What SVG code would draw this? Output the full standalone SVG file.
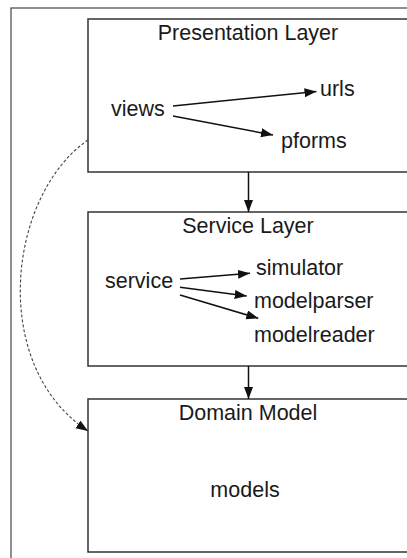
<svg xmlns="http://www.w3.org/2000/svg" width="407" height="558" viewBox="0 0 407 558">
<style>
.frame{fill:none;stroke:#444;stroke-width:1.2}
.box{fill:#fff;stroke:#333;stroke-width:1.5}
.t{font-family:"Liberation Sans",Arial,sans-serif;font-size:21.5px;fill:#1a1a1a}
.c{stroke:#111;stroke-width:1.5;fill:none}
.d{stroke:#444;stroke-width:1.1;fill:none;stroke-dasharray:3,2}
</style>
<defs>
<marker id="ah" markerUnits="userSpaceOnUse" markerWidth="12" markerHeight="10" refX="12" refY="4.5" orient="auto">
<path d="M0,0 L12,4.5 L0,9 z" fill="#111"/>
</marker>
</defs>
<rect class="frame" x="11" y="8" width="420" height="600"/>
<g id="presentation">
<rect class="box" x="88" y="19" width="330" height="153"/>
<text class="t" x="248" y="40" text-anchor="middle">Presentation Layer</text>
<text class="t" x="111" y="116">views</text>
<text class="t" x="320" y="96">urls</text>
<text class="t" x="281" y="148">pforms</text>
</g>
<g id="service-layer">
<rect class="box" x="88" y="212" width="330" height="154"/>
<text class="t" x="248" y="233" text-anchor="middle">Service Layer</text>
<text class="t" x="105" y="288">service</text>
<text class="t" x="256" y="275">simulator</text>
<text class="t" x="254" y="308">modelparser</text>
<text class="t" x="254" y="342">modelreader</text>
</g>
<g id="domain">
<rect class="box" x="88" y="399" width="330" height="153"/>
<text class="t" x="248" y="420" text-anchor="middle">Domain Model</text>
<text class="t" x="245" y="497" text-anchor="middle">models</text>
</g>
<g id="connectors">
<line class="c" x1="173" y1="106" x2="316.5" y2="91.5" marker-end="url(#ah)"/>
<line class="c" x1="173" y1="116" x2="273" y2="135" marker-end="url(#ah)"/>
<line class="c" x1="180" y1="279" x2="250" y2="273.3" marker-end="url(#ah)"/>
<line class="c" x1="180" y1="287.3" x2="246.7" y2="296" marker-end="url(#ah)"/>
<line class="c" x1="180" y1="295" x2="258.3" y2="318.3" marker-end="url(#ah)"/>
<line class="c" x1="248.5" y1="172" x2="248.5" y2="212" marker-end="url(#ah)"/>
<line class="c" x1="248.5" y1="366" x2="248.5" y2="399" marker-end="url(#ah)"/>
<path class="d" d="M88,140 C8,195 -12,365 88,431" marker-end="url(#ah)"/>
</g>
</svg>
